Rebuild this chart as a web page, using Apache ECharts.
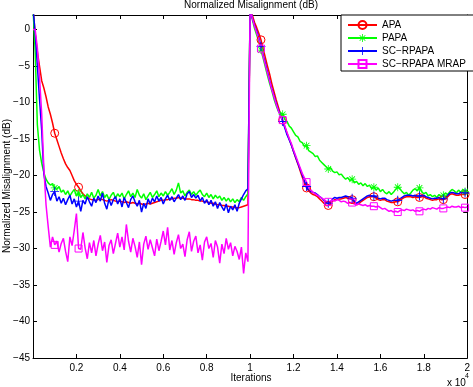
<!DOCTYPE html>
<html><head><meta charset="utf-8">
<script src="https://cdn.jsdelivr.net/npm/echarts@6/dist/echarts.min.js"></script>
<style>html,body{margin:0;padding:0;background:#fff}#c{width:473px;height:387px}</style>
</head><body><div id="c"></div>
<script>
// x positions in units of 10^4 iterations (0.00 .. 2.00, step 0.01)
const iters = [];
for (let i = 0; i <= 200; i++) iters.push(i / 100);

// indices of points that carry a marker
const markerIdx = [10,21,105,115,126,136,147,157,168,178,189,199];

const seriesNames = ['APA', 'PAPA', 'SC\u2212RPAPA', 'SC\u2212RPAPA MRAP'];

const apa = [
 3,-0.5,-3.0,-5.0,-7.0,-8.0,-9.2,-10.6,-11.6,-12.8,
 -14.2,-15.1,-16.0,-16.9,-17.7,-18.4,-18.9,-19.3,-20.0,-20.7,
 -21.2,-21.6,-22.1,-22.5,-22.8,-23.0,-23.2,-23.3,-23.3,-23.4,
 -23.3,-23.2,-23.3,-23.4,-23.5,-23.4,-23.3,-23.4,-23.5,-23.6,
 -23.5,-23.6,-23.7,-23.6,-23.7,-23.8,-23.7,-23.8,-23.9,-23.8,
 -23.9,-24.0,-23.9,-23.8,-23.9,-23.8,-23.7,-23.6,-23.5,-23.4,
 -23.4,-23.3,-23.3,-23.2,-23.2,-23.1,-23.1,-23.0,-23.1,-23.1,
 -23.2,-23.2,-23.2,-23.3,-23.3,-23.4,-23.4,-23.5,-23.5,-23.6,
 -23.6,-23.7,-23.8,-23.8,-23.9,-24.0,-24.0,-24.1,-24.1,-24.2,
 -24.2,-24.3,-24.3,-24.4,-24.4,-24.4,-24.3,-24.2,-24.1,-24.0,
 3,2.0,1.0,0.3,-0.5,-1.4,-2.6,-3.8,-5.0,-6.1,
 -7.4,-8.5,-9.6,-10.6,-11.6,-12.4,-13.3,-14.2,-15.0,-15.8,
 -16.7,-17.6,-18.4,-19.3,-20.2,-21.0,-21.7,-22.1,-22.4,-22.6,
 -22.7,-22.9,-23.2,-23.5,-23.8,-24.1,-24.1,-23.9,-23.5,-23.3,
 -23.3,-23.2,-23.2,-23.1,-23.0,-23.1,-23.2,-23.3,-23.7,-24.0,
 -23.9,-23.6,-23.4,-23.2,-23.0,-22.9,-22.9,-22.9,-23.1,-23.3,
 -23.4,-23.3,-23.3,-23.5,-23.6,-23.7,-23.7,-23.6,-23.6,-23.4,
 -23.2,-23.0,-22.9,-22.9,-22.9,-23.0,-22.9,-23.0,-23.0,-22.9,
 -22.9,-23.1,-23.2,-23.3,-23.4,-23.3,-23.3,-23.2,-23.3,-23.3,
 -23.2,-22.9,-22.6,-22.5,-22.6,-22.7,-22.7,-22.6,-22.6,-22.6,
 -22.4
];

const papa = [
 3,-3,-13,-16.5,-18.3,-19.6,-20.5,-21.0,-21.3,-21.1,
 -21.7,-21.9,-21.5,-22.3,-22.0,-22.6,-22.1,-22.8,-22.3,-21.9,
 -22.8,-22.4,-23.0,-22.6,-23.2,-22.5,-23.0,-22.3,-23.1,-22.7,
 -21.9,-22.8,-22.2,-23.0,-22.6,-23.3,-22.7,-22.3,-23.1,-22.5,
 -22.9,-22.4,-23.2,-22.6,-22.1,-22.9,-22.4,-23.0,-21.9,-22.7,
 -23.1,-22.5,-23.3,-22.8,-22.3,-23.0,-22.6,-22.1,-22.9,-22.4,
 -22.8,-22.2,-22.7,-22.3,-21.8,-22.6,-22.0,-21.0,-22.4,-22.1,
 -22.8,-22.3,-22.0,-22.6,-22.2,-22.7,-22.3,-22.0,-22.6,-22.9,
 -22.4,-23.0,-22.6,-23.2,-22.7,-23.1,-22.8,-23.4,-23.0,-23.5,
 -23.1,-23.6,-23.2,-23.7,-23.3,-23.6,-23.0,-23.4,-22.9,-22.5,
 3,1.4,0.2,-0.7,-1.6,-2.8,-3.9,-5.1,-6.3,-7.4,
 -8.4,-9.5,-10.4,-11.2,-11.4,-11.6,-12.3,-12.6,-13.2,-13.5,
 -14.0,-14.5,-14.7,-15.3,-15.5,-16.0,-15.9,-16.6,-16.8,-17.0,
 -17.4,-17.3,-17.9,-18.2,-18.5,-18.8,-19.1,-18.9,-19.4,-19.6,
 -19.5,-19.9,-19.8,-20.2,-20.5,-20.3,-20.7,-20.5,-21.0,-20.8,
 -21.2,-21.0,-21.4,-21.1,-21.5,-21.3,-21.8,-21.6,-22.0,-21.7,
 -22.2,-21.9,-22.3,-22.5,-22.2,-22.6,-22.3,-21.9,-21.6,-21.8,
 -22.2,-22.5,-22.3,-22.7,-22.4,-22.0,-21.8,-22.1,-21.7,-22.2,
 -22.5,-22.3,-22.8,-22.6,-22.9,-22.7,-23.0,-22.6,-22.9,-22.7,
 -22.4,-22.6,-22.2,-21.9,-22.1,-22.4,-22.0,-22.3,-21.9,-22.2,
 -22.0
];

const scrpapa = [
 3,-0.5,-4.9,-9.5,-13.8,-19.8,-21.5,-22.4,-23.4,-22.6,
 -22.2,-23.5,-22.9,-23.8,-23.1,-24.0,-23.3,-22.7,-23.9,-23.2,
 -24.3,-23.5,-24.9,-23.4,-23.9,-22.9,-23.6,-24.2,-23.1,-23.7,
 -22.8,-23.5,-22.4,-23.8,-24.6,-23.2,-24.1,-23.3,-22.9,-23.9,
 -23.2,-24.3,-23.0,-23.7,-24.4,-23.3,-22.8,-23.6,-24.2,-23.4,
 -25.0,-23.8,-24.5,-23.2,-23.9,-23.1,-23.6,-22.8,-23.5,-23.0,
 -23.9,-23.2,-22.7,-23.4,-22.9,-23.6,-23.1,-22.6,-23.3,-22.8,
 -23.4,-22.5,-22.2,-23.0,-22.6,-23.1,-22.7,-23.5,-23.0,-23.8,
 -23.3,-24.0,-23.4,-24.2,-23.6,-24.5,-23.7,-24.3,-24.8,-23.9,
 -25.1,-24.2,-24.7,-24.0,-24.9,-23.8,-23.2,-22.6,-22.1,-21.8,
 3,1.6,0.6,-0.2,-1.1,-2.3,-3.5,-4.6,-5.8,-7.0,
 -8.1,-9.1,-10.1,-11.0,-11.8,-12.6,-13.5,-14.4,-15.1,-15.8,
 -16.7,-17.5,-18.3,-19.1,-19.9,-20.7,-21.5,-22.0,-22.2,-22.3,
 -22.4,-22.6,-22.9,-23.1,-23.4,-23.7,-23.8,-23.6,-23.2,-23.0,
 -23.1,-23.0,-23.0,-22.9,-22.8,-22.9,-22.9,-23.1,-23.5,-23.8,
 -23.6,-23.4,-23.2,-23.0,-22.8,-22.7,-22.8,-22.8,-22.9,-23.1,
 -23.2,-23.1,-23.1,-23.3,-23.4,-23.5,-23.4,-23.4,-23.4,-23.2,
 -23.0,-22.8,-22.7,-22.7,-22.7,-22.8,-22.7,-22.8,-22.8,-22.7,
 -22.7,-22.9,-23.0,-23.1,-23.2,-23.1,-23.1,-23.0,-23.1,-23.2,
 -23.0,-22.7,-22.4,-22.3,-22.4,-22.5,-22.5,-22.3,-22.3,-22.4,
 -22.2
];

const mrap = [
 0,0,-2.5,-6.5,-11.5,-19,-24,-27,-29.8,-28.4,
 -29.5,-29.0,-30.5,-29.3,-28.6,-30.4,-31.8,-28.4,-29.6,-27.5,
 -25.2,-30.0,-30.1,-27.8,-29.9,-31.4,-29.2,-30.6,-28.9,-31.0,
 -29.4,-28.2,-30.3,-29.1,-31.9,-29.6,-28.8,-30.7,-29.3,-27.9,
 -29.8,-28.4,-30.2,-26.7,-29.0,-30.5,-28.6,-29.7,-31.2,-29.1,
 -32.2,-29.4,-28.3,-30.1,-28.8,-29.9,-31.0,-28.7,-30.3,-29.0,
 -27.6,-29.5,-27.1,-30.2,-28.9,-30.8,-29.2,-28.1,-30.0,-29.4,
 -31.1,-28.8,-27.7,-30.4,-29.0,-28.3,-30.6,-29.5,-31.6,-29.1,
 -28.4,-30.0,-29.3,-31.2,-28.9,-29.8,-32.0,-29.4,-30.7,-28.6,
 -30.1,-29.2,-31.0,-29.7,-30.4,-31.5,-29.8,-33.4,-30.6,-31.8,
 3,1.6,0.5,-0.4,-1.3,-2.6,-3.7,-4.8,-6.0,-7.1,
 -8.2,-9.2,-10.2,-11.1,-11.9,-12.4,-13.2,-14.1,-14.9,-15.6,
 -16.5,-17.3,-18.1,-18.9,-19.7,-20.3,-20.9,-21.6,-22.0,-22.3,
 -22.5,-22.7,-22.9,-23.1,-23.3,-23.5,-23.6,-23.5,-23.4,-23.5,
 -23.3,-23.4,-23.6,-23.5,-23.6,-23.8,-23.7,-23.7,-23.9,-24.0,
 -23.9,-24.0,-24.1,-24.0,-24.2,-24.1,-24.2,-24.2,-24.3,-24.2,
 -24.4,-24.6,-24.5,-24.7,-24.9,-24.8,-25.0,-24.9,-25.0,-24.8,
 -24.7,-24.8,-24.6,-24.7,-24.8,-24.7,-24.9,-24.8,-24.9,-24.7,
 -24.6,-24.7,-24.5,-24.6,-24.4,-24.5,-24.6,-24.4,-24.5,-24.5,
 -24.4,-24.3,-24.4,-24.2,-24.3,-24.3,-24.2,-24.4,-24.3,-24.4,
 -24.3
];

const FONT = 'Liberation Sans, Arial, Helvetica, sans-serif';
const PLUS = 'path://M-1,-10L1,-10L1,10L-1,10Z M-10,-1L10,-1L10,1L-10,1Z';
const STAR = 'path://M-1,-10L1,-10L1,10L-1,10Z M-10,-1L10,-1L10,1L-10,1Z M6.36,7.78L-7.78,-6.36L-6.36,-7.78L7.78,6.36Z M-6.36,7.78L-7.78,6.36L6.36,-7.78L7.78,-6.36Z';

function build(vals) {
  return vals.map((v, i) => markerIdx.indexOf(i) >= 0
    ? { value: [iters[i], v] }
    : { value: [iters[i], v], symbol: 'none' });
}

function mk(name, vals, color, symbol, size, hollow) {
  return {
    name: name, type: 'line', data: build(vals),
    symbol: symbol, symbolSize: size, showAllSymbol: true,
    lineStyle: { color: color, width: 1.5 },
    itemStyle: hollow
      ? { color: 'rgba(255,255,255,0)', borderColor: color, borderWidth: 1 }
      : { color: color, borderWidth: 0 },
    emphasis: { disabled: true }, silent: true, clip: true
  };
}

const chart = echarts.init(document.getElementById('c'), null, { renderer: 'canvas' });
const axisCommon = {
  axisLine: { show: true, onZero: false, lineStyle: { color: '#000', width: 1 } },
  axisTick: { show: true, inside: true, length: 4, lineStyle: { color: '#000', width: 1 } },
  splitLine: { show: false }
};
chart.setOption({
  animation: false,
  backgroundColor: '#fff',
  grid: { left: 33, right: 3, top: 15, bottom: 29, containLabel: false },
  xAxis: [
    Object.assign({
      type: 'value', min: 0, max: 2, interval: 0.2, position: 'bottom',
      axisLabel: { show: true, margin: 5, fontSize: 10, fontFamily: FONT, color: '#000', showMinLabel: false,
        formatter: v => v === 0 ? '' : String(Math.round(v * 10) / 10) }
    }, axisCommon),
    Object.assign({
      type: 'value', min: 0, max: 2, interval: 0.2, position: 'top', axisLabel: { show: false }
    }, axisCommon)
  ],
  yAxis: [
    Object.assign({
      type: 'value', min: -45, max: 2, interval: 5, position: 'left',
      axisLabel: { show: true, margin: 3, fontSize: 10, fontFamily: FONT, color: '#000', showMaxLabel: false,
        formatter: v => String(v).replace('-', '\u2212') }
    }, axisCommon),
    Object.assign({
      type: 'value', min: -45, max: 2, interval: 5, position: 'right', axisLabel: { show: false }
    }, axisCommon)
  ],
  legend: {
    orient: 'vertical', left: 341, top: 15, itemWidth: 29, itemHeight: 10, itemGap: 3,
    padding: [5, 8, 2, 6], borderColor: '#000', borderWidth: 1, backgroundColor: '#fff',
    textStyle: { fontSize: 10, fontFamily: FONT, color: '#000' },
    data: seriesNames
  },
  series: [
    mk(seriesNames[0], apa, '#ff0000', 'circle', 8, true),
    mk(seriesNames[1], papa, '#00ff00', STAR, 8, false),
    mk(seriesNames[2], scrpapa, '#0000ff', PLUS, 9, false),
    mk(seriesNames[3], mrap, '#ff00ff', 'rect', 7, true)
  ],
  graphic: [
    { type: 'text', x: 251, y: 5, style: { text: 'Normalized Misalignment (dB)', font: '10px ' + FONT, fill: '#000', textAlign: 'center', textVerticalAlign: 'middle' } },
    { type: 'text', x: 251, y: 378, style: { text: 'Iterations', font: '10px ' + FONT, fill: '#000', textAlign: 'center', textVerticalAlign: 'middle' } },
    { type: 'text', x: 7, y: 186, rotation: Math.PI / 2, style: { text: 'Normalized Misalignment (dB)', font: '10px ' + FONT, fill: '#000', textAlign: 'center', textVerticalAlign: 'middle' } },
    { type: 'text', x: 447, y: 383, style: { text: 'x 10', font: '10px ' + FONT, fill: '#000', textAlign: 'left', textVerticalAlign: 'middle' } },
    { type: 'text', x: 465, y: 376, style: { text: '4', font: '7px ' + FONT, fill: '#000', textAlign: 'left', textVerticalAlign: 'middle' } }
  ]
});
</script>
</body></html>
